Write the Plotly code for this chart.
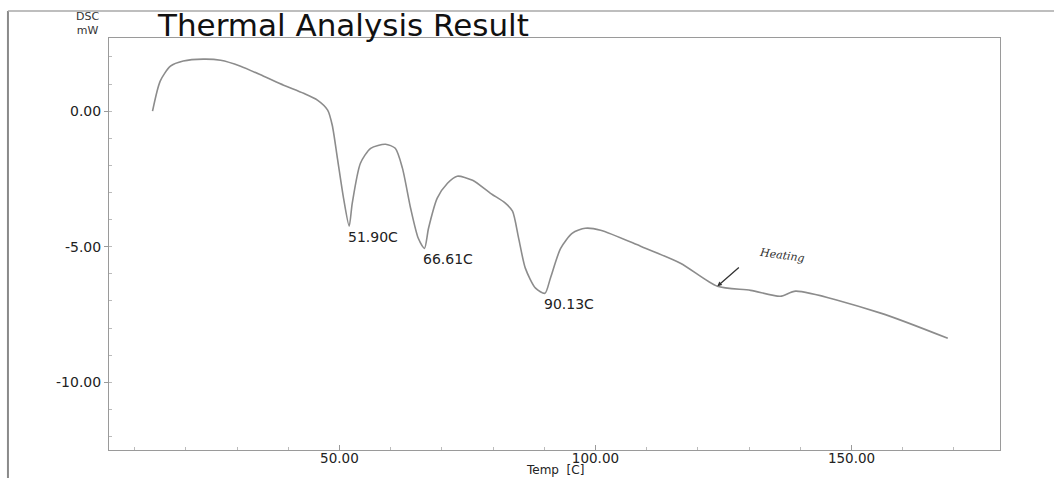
import plotly.graph_objects as go

# ---- data ----
temps = [13.5, 15.0, 17.0, 19.5, 23.4, 26.8, 30.7, 35.2, 39.1, 43.0, 45.7, 47.7,
         48.6, 49.6, 50.8, 51.9, 52.5, 54.1, 56.1, 59.0, 60.9, 62.3, 63.9, 65.4,
         66.61, 67.4, 69.1, 71.1, 73.0, 76.0, 79.5, 82.4, 83.8, 85.0, 86.3, 88.3,
         90.13, 91.2, 93.2, 95.5, 98.0, 101.0, 108.8, 116.6, 123.8, 130.3, 136.1,
         139.1, 155.7, 168.8]
dsc = [0.00, 1.11, 1.66, 1.85, 1.92, 1.88, 1.66, 1.29, 0.96, 0.66, 0.41, 0.04,
       -0.52, -1.73, -3.21, -4.24, -3.40, -1.92, -1.37, -1.22, -1.37, -2.10, -3.58, -4.69,
       -5.06, -4.32, -3.21, -2.66, -2.40, -2.55, -3.03, -3.39, -3.69, -4.69, -5.79, -6.53,
       -6.72, -6.16, -5.06, -4.50, -4.32, -4.39, -4.98, -5.61, -6.46, -6.61, -6.83,
       -6.64, -7.45, -8.38]

peak_temps = [51.90, 66.61, 90.13]
peak_labels = ["51.90C", "66.61C", "90.13C"]

heating_temp = 123.8
heating_label = "Heating"

x_tick_vals = [50, 100, 150]
x_tick_text = ["50.00", "100.00", "150.00"]
y_tick_vals = [0, -5, -10]
y_tick_text = ["0.00", "-5.00", "-10.00"]

title_text = "Thermal Analysis Result"
y_unit_text = "DSC<br>mW"
x_title_text = "Temp  [C]"

FONT = "DejaVu Sans"
AXIS_COLOR = "#9a9a9a"


def dsc_at(t):
    i = min(range(len(temps)), key=lambda k: abs(temps[k] - t))
    return dsc[i]


fig = go.Figure()
fig.add_trace(go.Scatter(
    x=temps, y=dsc, mode="lines",
    line=dict(color="#8c8c8c", width=1.6, shape="spline", smoothing=0.7),
    hoverinfo="skip", showlegend=False,
))

annotations = []
for t, lab in zip(peak_temps, peak_labels):
    annotations.append(dict(
        x=t, y=dsc_at(t), xref="x", yref="y", text=lab, showarrow=False,
        xanchor="left", yanchor="top", xshift=-3, yshift=-1,
        font=dict(family=FONT, size=14, color="#222222"),
    ))

# "Heating" handwritten note with arrow
hy = dsc_at(heating_temp)
annotations.append(dict(
    x=heating_temp, y=hy, xref="x", yref="y", text="", showarrow=True,
    ax=23, ay=-20, arrowhead=2, arrowsize=0.7, arrowwidth=1.3, arrowcolor="#333333",
))
annotations.append(dict(
    x=heating_temp, y=hy, xref="x", yref="y", text=heating_label, showarrow=False,
    xshift=65, yshift=31, textangle=8,
    font=dict(family="DejaVu Serif", size=11, color="#333333", style="italic"),
))

# title and unit label
annotations.append(dict(
    x=0.0516, y=1.0316, xref="paper", yref="paper", text=title_text, showarrow=False,
    xanchor="left", yanchor="middle",
    font=dict(family=FONT, size=31, color="#111111"),
))
annotations.append(dict(
    x=-0.009, y=1.034, xref="paper", yref="paper", text=y_unit_text, showarrow=False,
    xanchor="right", yanchor="middle", align="center",
    font=dict(family=FONT, size=11, color="#333333"),
))
# x axis title placed under the tick labels
annotations.append(dict(
    x=0.5, y=-0.0485, xref="paper", yref="paper", text=x_title_text, showarrow=False,
    xanchor="center", yanchor="middle", borderpad=0,
    font=dict(family=FONT, size=12, color="#222222"),
))

shapes = [
    # outer frame (left and top edges of the scanned page border)
    dict(type="line", xref="paper", yref="paper", x0=-0.1134, x1=-0.1134, y0=-0.1, y1=1.0655,
         line=dict(color="#8a8a8a", width=2)),
    dict(type="line", xref="paper", yref="paper", x0=-0.1134, x1=1.07, y0=1.0655, y1=1.0655,
         line=dict(color="#a8a8a8", width=1.5)),
]

fig.update_layout(
    width=1054, height=478,
    margin=dict(l=109, r=54, t=38, b=28),
    paper_bgcolor="white", plot_bgcolor="white",
    showlegend=False,
    annotations=annotations, shapes=shapes,
    font=dict(family=FONT, size=14, color="#222222"),
    xaxis=dict(
        range=[5, 179], showgrid=False, zeroline=False, automargin=False,
        showline=True, mirror=True, linecolor=AXIS_COLOR, linewidth=1,
        tickmode="array", tickvals=x_tick_vals, ticktext=x_tick_text,
        ticks="inside", ticklen=5, tickcolor=AXIS_COLOR,
        minor=dict(dtick=10, tick0=0, ticks="inside", ticklen=3, tickcolor="#bbbbbb"),
        tickfont=dict(family=FONT, size=13.5, color="#222222"),
        ticklabelstandoff=-4,
    ),
    yaxis=dict(
        range=[-12.5, 2.7], showgrid=False, zeroline=False, automargin=False,
        showline=True, mirror=True, linecolor=AXIS_COLOR, linewidth=1,
        tickmode="array", tickvals=y_tick_vals, ticktext=y_tick_text,
        ticks="outside", ticklen=4, tickcolor=AXIS_COLOR,
        minor=dict(dtick=1, tick0=0, ticks="inside", ticklen=3, tickcolor="#bbbbbb"),
        tickfont=dict(family=FONT, size=14, color="#222222"),
    ),
)

fig.write_html("out.html")
